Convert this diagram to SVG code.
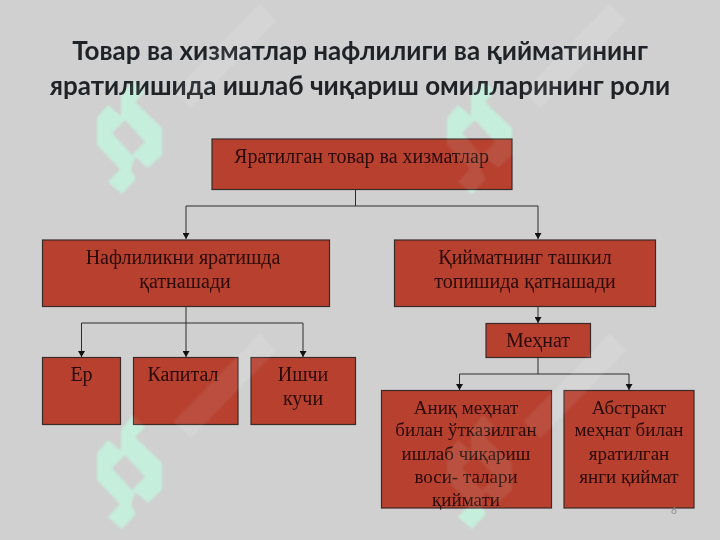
<svg xmlns="http://www.w3.org/2000/svg" width="720" height="540" viewBox="0 0 720 540">
<style>
.title{font:700 26px Lato,"Noto Sans",sans-serif;fill:#1f2226;text-anchor:middle}
.box{fill:#b8402f;stroke:#3a2a28;stroke-width:1.2}
.t{font:20px "Liberation Serif",serif;fill:#2a0a06;text-anchor:middle}
.t2{font-size:19px}
.c{fill:none;stroke:#2c2c2c;stroke-width:1}
.g{fill:#c6eedd;fill-rule:evenodd}
.s{fill:none;stroke:#d5d5d5;stroke-width:24}
</style>
<defs>
<marker id="a" markerWidth="7" markerHeight="7" refX="6" refY="3.500" orient="auto" markerUnits="userSpaceOnUse"><path d="M0 0L6 3.500L0 7Z" fill="#111"/></marker>
<path id="logo" d="M133 80L145 92L135 102L162 128L162 155L148 168L135 157L131 170L136 179L122 194L108 182L120 169L97 145L97 118L108 105L121 116L121 95ZM112 133L125 120L145 142L132 155Z"/>
<path id="sf" d="M182 100L268 12"/>
<filter id="b"><feGaussianBlur stdDeviation="0.8"/></filter>
<g id="marks">
<use href="#sf" class="s"/>
<use href="#sf" class="s" x="350"/>
<use href="#sf" class="s" y="330"/>
<use href="#sf" class="s" x="350" y="330"/>
<use href="#logo" class="g"/>
<use href="#logo" class="g" x="350"/>
<use href="#logo" class="g" y="335"/>
<use href="#logo" class="g" x="350" y="335"/>
</g>
</defs>
<rect id="background" width="720" height="540" fill="#d0d0d0"/>
<use id="watermark" href="#marks" filter="url(#b)"/>
<text class="title" x="360" y="60">Товар ва хизматлар нафлилиги ва қийматининг</text>
<text class="title" x="360" y="95">яратилишида ишлаб чиқариш омилларининг роли</text>
<g id="connectors">
<path class="c" d="M355.500 190V206"/>
<path class="c" d="M355.500 206H186V239" marker-end="url(#a)"/>
<path class="c" d="M355.500 206H538V239" marker-end="url(#a)"/>
<path class="c" d="M186 306V323"/>
<path class="c" d="M186 323H81.500V357" marker-end="url(#a)"/>
<path class="c" d="M186 323V357" marker-end="url(#a)"/>
<path class="c" d="M186 323H303V357" marker-end="url(#a)"/>
<path class="c" d="M538 306V323" marker-end="url(#a)"/>
<path class="c" d="M538 358V374"/>
<path class="c" d="M538 374H459.500V390" marker-end="url(#a)"/>
<path class="c" d="M538 374H629V390" marker-end="url(#a)"/>
</g>
<g id="n1"><rect class="box" x="212" y="139" width="300" height="50.500"/><text class="t" x="361.500" y="163">Яратилган товар ва хизматлар</text></g>
<g id="n2"><rect class="box" x="42.500" y="240" width="287" height="66.500"/><text class="t" x="183" y="264">Нафлиликни яратишда</text><text class="t" x="185" y="288">қатнашади</text></g>
<g id="n3"><rect class="box" x="394.500" y="240" width="261" height="66.500"/><text class="t" x="525" y="264">Қийматнинг ташкил</text><text class="t" x="525" y="288">топишида қатнашади</text></g>
<g id="n4"><rect class="box" x="42.500" y="357.500" width="78" height="67"/><text class="t" x="81.500" y="381">Ер</text></g>
<g id="n5"><rect class="box" x="133.500" y="357.500" width="104.500" height="67"/><text class="t" x="183" y="381">Капитал</text></g>
<g id="n6"><rect class="box" x="251" y="357.500" width="104.500" height="67"/><text class="t" x="303" y="381">Ишчи</text><text class="t" x="303" y="405">кучи</text></g>
<g id="n7"><rect class="box" x="486" y="323.500" width="104.500" height="34"/><text class="t" x="538" y="347">Меҳнат</text></g>
<g id="n8"><rect class="box" x="381.500" y="390.500" width="170" height="117.500"/><text class="t t2" x="466" y="414">Аниқ меҳнат</text><text class="t t2" x="466" y="436">билан ўтказилган</text><text class="t t2" x="466" y="460">ишлаб чиқариш</text><text class="t t2" x="466" y="483">воси- талари</text><text class="t t2" x="466" y="506">қиймати</text></g>
<g id="n9"><rect class="box" x="564" y="390.500" width="130" height="117.500"/><text class="t t2" x="629" y="414">Абстракт</text><text class="t t2" x="629" y="436">меҳнат билан</text><text class="t t2" x="629" y="460">яратилган</text><text class="t t2" x="629" y="483">янги қиймат</text></g>
<text x="674" y="514" font-family="Lato,sans-serif" font-size="10" fill="#8a8a8a" text-anchor="middle">6</text>
<use id="watermark-over" href="#marks" opacity="0.1" filter="url(#b)"/>
</svg>
